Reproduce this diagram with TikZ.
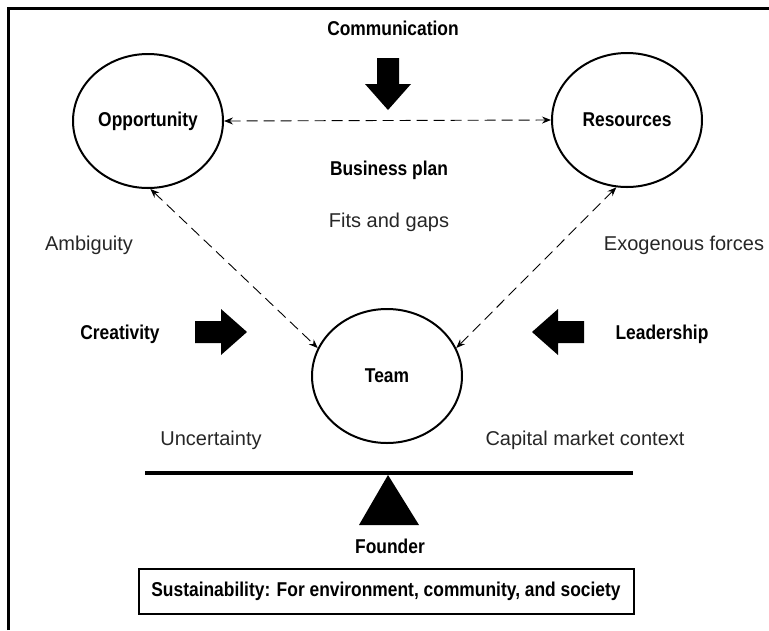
\documentclass[tikz,border=0pt]{standalone}
\usepackage{fontspec}
\setmainfont{Liberation Sans}
\newfontfamily\condfont[FakeStretch=0.87]{Liberation Sans}
\usetikzlibrary{shapes.geometric,arrows.meta}

\tikzset{
  x=1pt, y=-1pt,
  hub/.style={draw, line width=2pt, ellipse, inner sep=0pt,
    minimum width=150pt, minimum height=134pt,
    font=\condfont\bfseries\fontsize{20}{22}\selectfont},
  boldlabel/.style={inner sep=0pt, anchor=base,
    font=\condfont\bfseries\fontsize{20}{22}\selectfont},
  plainlabel/.style={inner sep=0pt, anchor=base,
    font=\fontsize{20}{23}\selectfont, text=black!85},
  link/.style={line width=0.9pt, dash pattern=on 11pt off 6pt,
    {Stealth[length=9pt,width=7pt,inset=3pt]}-{Stealth[length=9pt,width=7pt,inset=3pt]}},
  blockarrow/.pic={
    \fill (0,-11) -- (26,-11) -- (26,-23) -- (52,0) -- (26,23) -- (26,11) -- (0,11) -- cycle;
  }
}

\begin{document}
\begin{tikzpicture}
\useasboundingbox (0,0) rectangle (769,630);

% frame lines on the left and top
\draw[line width=3pt] (8,630) -- (8,8) -- (769,8);

% the three hubs
\node[hub] (opp)  at (148,121) {Opportunity};
\node[hub] (res)  at (627,120) {Resources};
\node[hub] (team) at (387,376) {Team};

% dashed two-way links
\draw[link] (opp.east) -- (res.west);
\draw[link] (opp.-88) -- (team.158);
\draw[link] (res.-99) -- (team.22);

% forces acting on the team
\node[boldlabel] (comm) at (393,35) {Communication};
\pic at (388,58) [rotate=-90] {blockarrow};
\node[boldlabel] (creat) at (120,339) {Creativity};
\pic at (195,332) {blockarrow};
\node[boldlabel] (lead) at (662,339) {Leadership};
\pic at (584,332) [rotate=180] {blockarrow};

% centre texts
\node[boldlabel] (plan) at (389,175) {Business plan};
\node[plainlabel] (fits) at (389,227) {Fits and gaps};

% surrounding conditions
\node[plainlabel] (amb)  at (89,250)  {Ambiguity};
\node[plainlabel] (exo)  at (684,250) {Exogenous forces};
\node[plainlabel] (unc)  at (211,445) {Uncertainty};
\node[plainlabel] (cap)  at (585,445) {Capital market context};

% balance beam on the founder fulcrum
\coordinate (beamL) at (145,473);
\coordinate (beamR) at (633,473);
\draw[line width=4pt] (beamL) -- (beamR);
\fill (388,475) -- (419,525) -- (359,525) -- cycle;
\node[boldlabel] (founder) at (390,553) {Founder};

% foundation box
\node[draw, line width=2pt, inner sep=0pt, minimum width=495pt, minimum height=45pt,
  font=\condfont\bfseries\fontsize{20}{22}\selectfont] (sust) at (386,591.5)
  {Sustainability: For environment, community, and society};
\end{tikzpicture}
\end{document}
